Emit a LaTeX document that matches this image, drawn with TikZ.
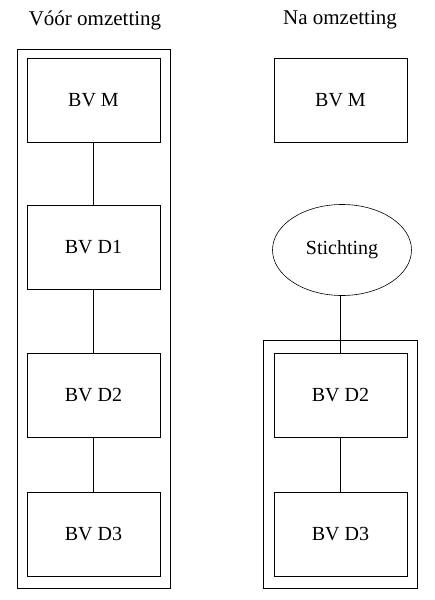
\documentclass[tikz,border=0pt]{standalone}
\usepackage{fontspec}
\setmainfont{Liberation Serif}
\usetikzlibrary{shapes.geometric}
\tikzset{
  bv/.style={rectangle,draw,line width=0.9pt,minimum width=133pt,minimum height=84pt,inner sep=0pt,font=\fontsize{20}{24}\selectfont},
  st/.style={ellipse,draw,line width=0.6pt,minimum width=139pt,minimum height=91pt,inner sep=0pt,font=\fontsize{20}{24}\selectfont},
  ttl/.style={font=\fontsize{21}{25}\selectfont},
  kader/.style={draw,line width=0.9pt},
  every picture/.style={line width=0.7pt},
}
\begin{document}
\begin{tikzpicture}[x=1pt,y=-1pt]
\useasboundingbox (0,0) rectangle (435,600);
\node[ttl] (tl) at (95,20){Vóór omzetting}; \node[ttl] (tr) at (340,20){Na omzetting};
% voor
\node[bv] (LM) at (93.5,100){BV M}; \node[bv] (L1) at (93.5,247.5){BV D1};
\node[bv] (L2) at (93.5,395.5){BV D2}; \node[bv] (L3) at (93.5,534.5){BV D3};
\draw (LM)--(L1); \draw (L1)--(L2); \draw (L2)--(L3);
\draw[kader] (17,49) rectangle (170,588);
% na
\node[bv] (RM) at (340.5,100){BV M}; \node[st] (S) at (342,250){Stichting};
\node[bv] (R2) at (340.5,395.5){BV D2}; \node[bv] (R3) at (340.5,534.5){BV D3};
\draw (S.south-|R2.north)--(R2); \draw (R2)--(R3);
\draw[kader] (263,340) rectangle (417,588);
\end{tikzpicture}
\end{document}
